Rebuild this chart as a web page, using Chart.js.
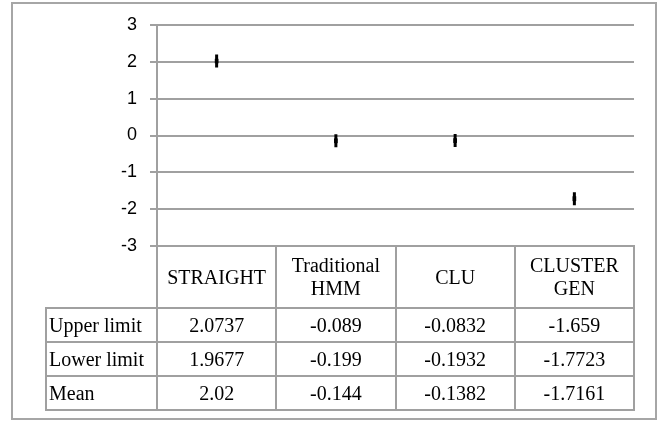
<!DOCTYPE html>
<html>
<head>
<meta charset="utf-8">
<script src="https://cdn.jsdelivr.net/npm/chart.js@4.4.1/dist/chart.umd.min.js"></script>
<style>
    body { margin: 0; width: 659px; height: 421px; background: #fff; position: relative; overflow: hidden; }
    #moldura { position: absolute; left: 11px; top: 2px; width: 642px; height: 414px; border: 2px solid #a6a6a6; }
    #grafico { position: absolute; left: 0; top: 0; }
    #tabela { position: absolute; border-collapse: collapse; table-layout: fixed;
        font-family: "Liberation Serif", "Times New Roman", serif; font-size: 20px; color: #000; }
    #tabela td { border: 2px solid #a0a0a0; text-align: center; padding: 0; }
    #tabela tr.cabecalho td { height: 60px; line-height: 23px; }
    #tabela tr.linha td { height: 32px; }
    #tabela td.rotulo { text-align: left; padding-left: 2px; white-space: nowrap; }
    #tabela td.vazio { border-top: none; border-left: none; }
</style>
</head>
<body>
<div id="moldura"></div>
<canvas id="grafico" width="659" height="421"></canvas>
<table id="tabela"></table>
<script>
// dados
var categorias = ['STRAIGHT', 'Traditional HMM', 'CLU', 'CLUSTER GEN'];
var cabecalhos = [['STRAIGHT'], ['Traditional', 'HMM'], ['CLU'], ['CLUSTER', 'GEN']];
var limiteSuperior = [2.0737, -0.089, -0.0832, -1.659];
var limiteInferior = [1.9677, -0.199, -0.1932, -1.7723];
var media = [2.02, -0.144, -0.1382, -1.7161];
var rotulosLinhas = ['Upper limit', 'Lower limit', 'Mean'];
var eixoMin = -3;
var eixoMax = 3;
var eixoPasso = 1;

var intervalos = [];
for (var i = 0; i < categorias.length; i++) {
    intervalos.push([limiteInferior[i], limiteSuperior[i]]);
}

var ctx = document.getElementById('grafico');
var grafico = new Chart(ctx, {
    type: 'bar',
    data: {
        labels: categorias,
        datasets: [
            {
                type: 'line',
                label: 'Mean',
                data: media,
                showLine: false,
                pointStyle: 'line',
                rotation: 90,
                pointRadius: 6.5,
                pointHoverRadius: 6.5,
                borderWidth: 3,
                borderColor: '#000',
                backgroundColor: '#000'
            },
            {
                label: 'Limites',
                data: intervalos,
                backgroundColor: '#000',
                borderWidth: 0,
                barThickness: 3
            }
        ]
    },
    options: {
        responsive: false,
        animation: false,
        layout: { padding: { left: 0, top: 25, right: 25, bottom: 175 } },
        plugins: {
            legend: { display: false },
            tooltip: { enabled: false }
        },
        scales: {
            x: { display: false },
            y: {
                min: eixoMin,
                max: eixoMax,
                afterFit: function (scale) { scale.width = 157; },
                ticks: {
                    stepSize: eixoPasso,
                    padding: 13,
                    color: '#000',
                    font: { family: '"Liberation Sans", Arial, sans-serif', size: 18 }
                },
                grid: { color: '#a0a0a0', lineWidth: 2, tickLength: 7 },
                border: { color: '#a0a0a0', width: 2 }
            }
        }
    }
});

// tabela de dados abaixo do gráfico
function montaTabela() {
    var area = grafico.chartArea;
    var larguraRotulo = 111;
    var larguraColuna = (area.right - area.left) / categorias.length;
    var tabela = document.getElementById('tabela');
    var html = '<colgroup><col style="width:' + larguraRotulo + 'px">';
    for (var i = 0; i < categorias.length; i++) {
        html += '<col style="width:' + larguraColuna + 'px">';
    }
    html += '</colgroup>';
    html += '<tr class="cabecalho"><td class="vazio"></td>';
    cabecalhos.forEach(function (c) {
        html += '<td>' + c.join('<br>') + '</td>';
    });
    html += '</tr>';
    var linhas = [limiteSuperior, limiteInferior, media];
    linhas.forEach(function (valores, j) {
        html += '<tr class="linha"><td class="rotulo">' + rotulosLinhas[j] + '</td>';
        valores.forEach(function (v) {
            html += '<td>' + String(v) + '</td>';
        });
        html += '</tr>';
    });
    tabela.innerHTML = html;
    tabela.style.left = (area.left - larguraRotulo - 1) + 'px';
    tabela.style.top = (area.bottom - 1) + 'px';
    tabela.style.width = (larguraRotulo + area.right - area.left) + 'px';
}
montaTabela();
</script>
</body>
</html>
